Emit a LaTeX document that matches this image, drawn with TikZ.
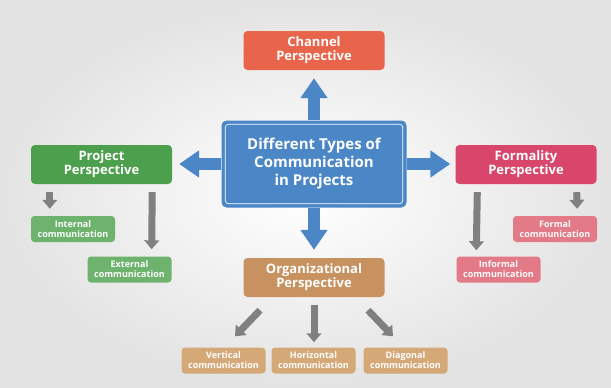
\documentclass[tikz,border=0pt]{standalone}
\usepackage{fontspec}
\setmainfont{Open Sans}
\usetikzlibrary{arrows.meta,calc}
\definecolor{chan}{HTML}{E8644B}
\definecolor{cblue}{HTML}{4B86C6}
\definecolor{proj}{HTML}{4C9F4C}
\definecolor{projl}{HTML}{6DB36D}
\definecolor{form}{HTML}{D8466B}
\definecolor{forml}{HTML}{E27A88}
\definecolor{org}{HTML}{C7925F}
\definecolor{orgl}{HTML}{D5A878}
\definecolor{garr}{HTML}{808080}
\begin{document}
\begin{tikzpicture}[x=1pt,y=-1pt,
  bigbox/.style={rounded corners=4pt, text=white, align=center, inner sep=0pt,
    minimum width=141pt, minimum height=39pt, font=\bfseries\fontsize{13}{14}\selectfont},
  smallbox/.style={rounded corners=3.5pt, text=white, align=center, inner sep=0pt,
    minimum width=84pt, minimum height=26pt, font=\bfseries\fontsize{9}{10}\selectfont},
  bluearrow/.style={draw=cblue, line width=12.5pt, -{Triangle[width=26pt,length=20pt]}},
  grayarrow/.style={draw=garr, line width=7pt, -{Triangle[width=14.5pt,length=9pt]}}]
\shade[inner color=white, outer color=black!11] (0,0) rectangle (611,388);
\useasboundingbox (0,0) rectangle (611,388);
% main nodes
\node[bigbox, fill=chan] (channel) at (314,50.5) {Channel\\Perspective};
\node[rounded corners=5pt, fill=cblue, text=white, align=center, inner sep=0pt,
  minimum width=185pt, minimum height=87pt,
  font=\bfseries\fontsize{15}{18}\selectfont] (center) at (314,164)
  {Different Types of\\Communication\\in Projects};
\draw[white, line width=0.7pt, rounded corners=3pt]
  ($(center.north west)+(4,4)$) rectangle ($(center.south east)+(-4,-4)$);
\node[bigbox, fill=proj] (project) at (101.5,164.5) {Project\\Perspective};
\node[bigbox, fill=form] (formality) at (526,164.5) {Formality\\Perspective};
\node[bigbox, fill=org] (orgp) at (314,277.5) {Organizational\\Perspective};
% small nodes
\node[smallbox, fill=projl] (internal) at (73,229) {Internal\\communication};
\node[smallbox, fill=projl] (external) at (129.5,269.5) {External\\communication};
\node[smallbox, fill=forml] (formal) at (555,229) {Formal\\communication};
\node[smallbox, fill=forml] (informal) at (498.5,269.5) {Informal\\communication};
\node[smallbox, fill=orgl] (vertical) at (223.5,360.5) {Vertical\\communication};
\node[smallbox, fill=orgl] (horizontal) at (313.5,360.5) {Horizontal\\communication};
\node[smallbox, fill=orgl] (diagonal) at (405.5,360.5) {Diagonal\\communication};
% blue arrows
\draw[bluearrow, shorten >=8pt] (center.north) -- (channel.south);
\draw[bluearrow, shorten >=8pt] (center.south) -- (orgp.north);
\draw[bluearrow, shorten >=7pt] (center.west) -- (project.east |- center.west);
\draw[bluearrow, shorten >=5pt] (center.east) -- (formality.west |- center.east);
% gray arrows
\draw[grayarrow] ($(project.south west)+(19,8)$) -- ($(internal.north west)+(19,-7)$);
\draw[grayarrow] ($(project.south east)+(-20,8)$) -- ($(external.north east)+(-20,-7)$);
\draw[grayarrow] ($(formality.south west)+(22,8)$) -- ($(informal.north west)+(20,-6)$);
\draw[grayarrow] ($(formality.south east)+(-20,8)$) -- ($(formal.north east)+(-20,-7)$);
\draw[grayarrow] ($(orgp.south)+(-54,13)$) -- ($(vertical.north)+(11.5,-11)$);
\draw[grayarrow] ($(orgp.south)+(0,8)$) -- ($(horizontal.north)+(0.5,-5)$);
\draw[grayarrow] ($(orgp.south)+(54,13)$) -- ($(diagonal.north)+(-12.5,-11)$);
\end{tikzpicture}
\end{document}
